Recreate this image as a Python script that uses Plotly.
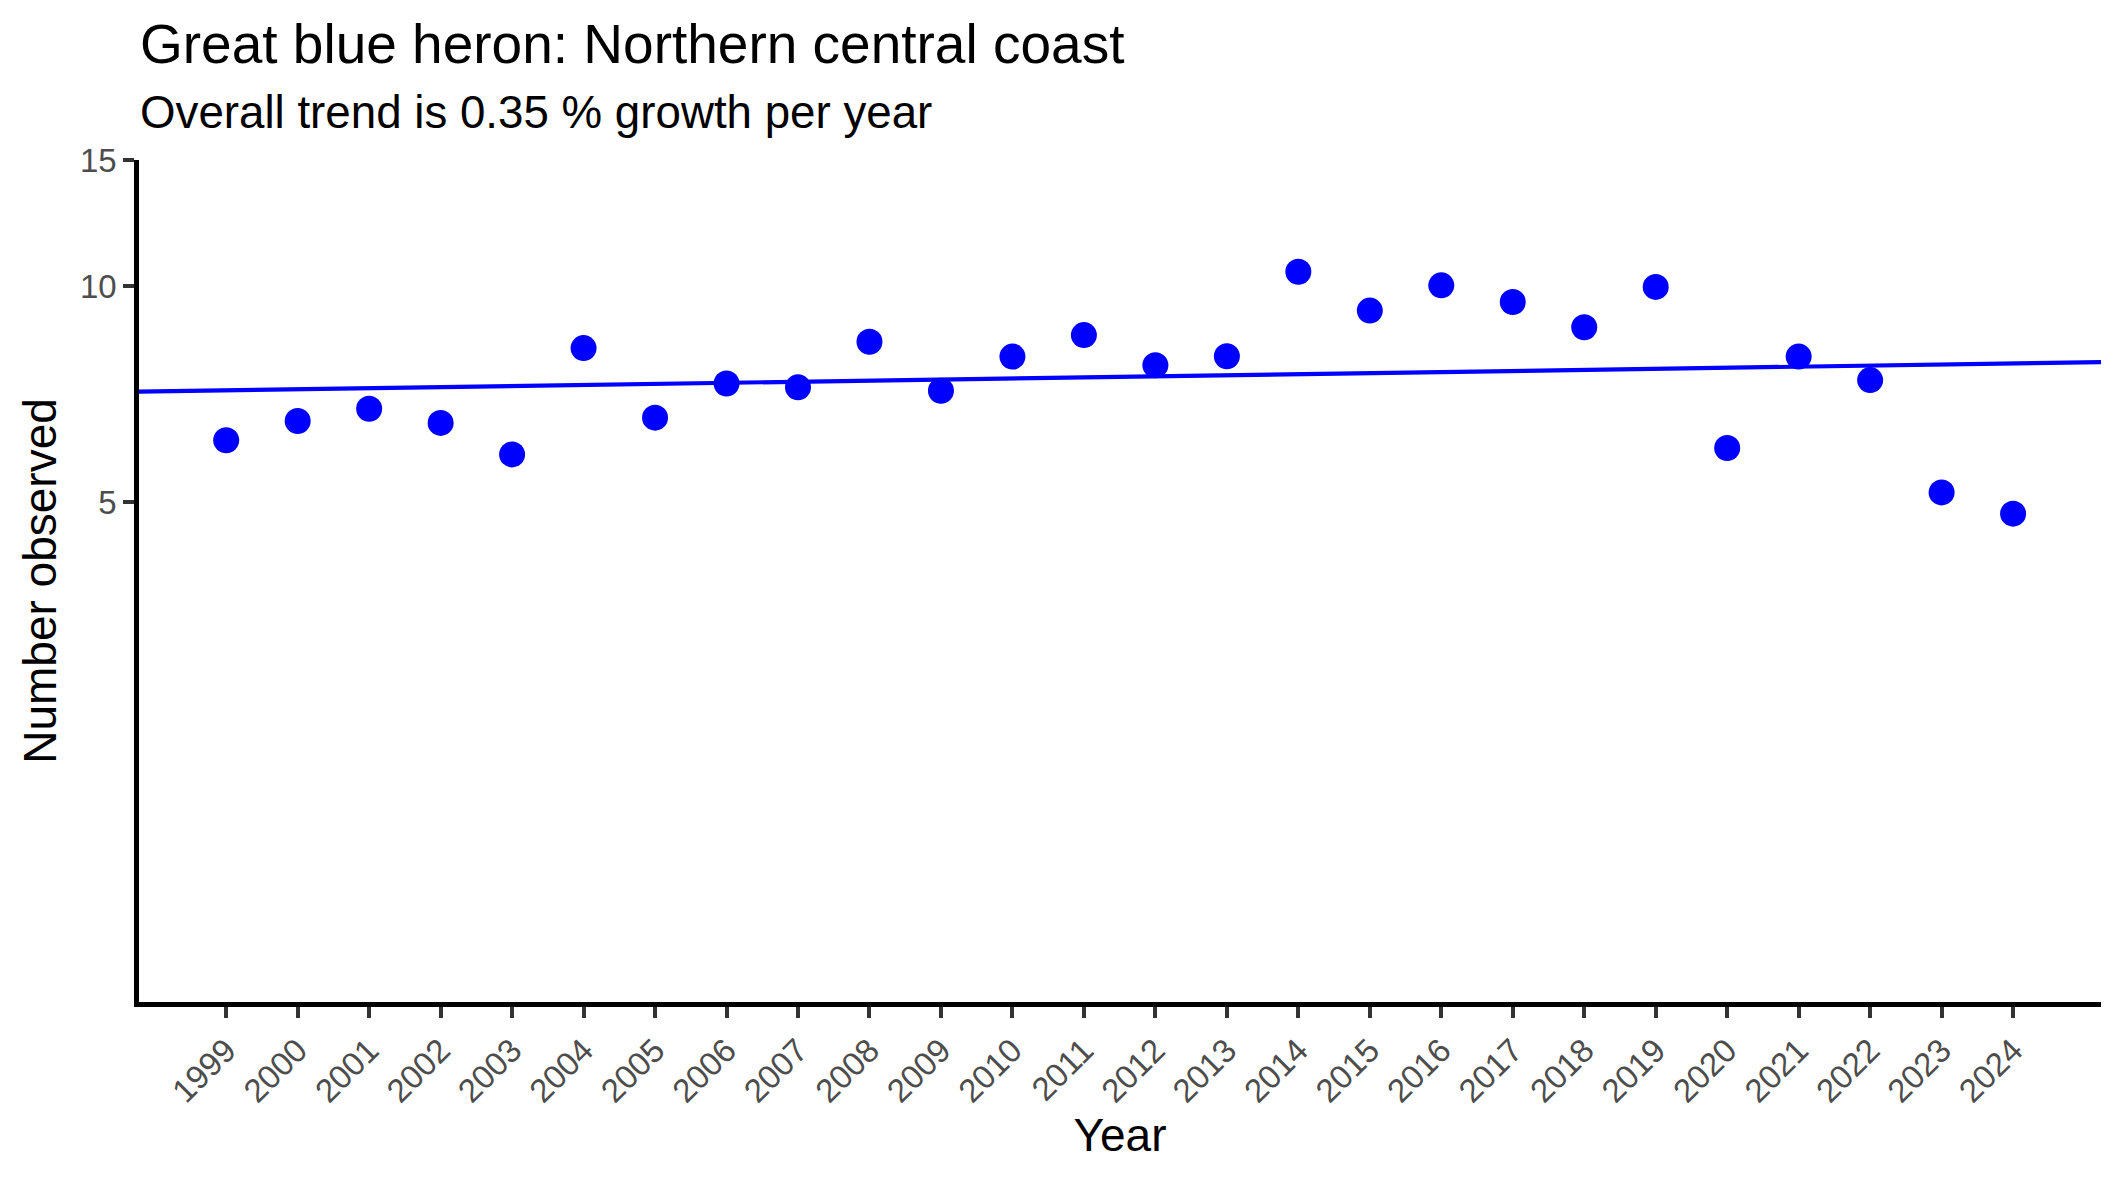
import plotly.graph_objects as go

years = list(range(1999, 2025))
counts = [6.10, 6.49, 6.75, 6.45, 5.83, 8.20, 6.56, 7.32, 7.23, 8.37,
          7.15, 7.98, 8.55, 7.76, 7.99, 10.48, 9.25, 10.03, 9.51, 8.77,
          9.98, 5.95, 7.98, 7.40, 5.16, 4.82]
trend_years = [1997.75, 2025.25]
trend_values = [7.13, 7.84]
y_ticks = [5, 10, 15]
title_text = "Great blue heron: Northern central coast"
subtitle_text = "Overall trend is 0.35 % growth per year"

FONT = "Liberation Sans, Arial, sans-serif"

fig = go.Figure()
fig.add_trace(go.Scatter(x=trend_years, y=trend_values, mode="lines",
                         line=dict(color="#0000FF", width=4.2),
                         showlegend=False, hoverinfo="skip"))
fig.add_trace(go.Scatter(x=years, y=counts, mode="markers",
                         marker=dict(color="#0000FF", size=26, line=dict(width=0)),
                         showlegend=False))

W, H = 2125, 1181
L, R, T, B = 139, 24, 160, 179
ph = H - T - B

def py(ypx):
    return (H - B - ypx) / ph

fig.update_layout(
    width=W, height=H,
    margin=dict(l=L, r=R, t=T, b=B),
    paper_bgcolor="white", plot_bgcolor="white",
    font=dict(family=FONT, color="black"),
    xaxis=dict(
        range=[1997.78, 2025.23], tickmode="array", tickvals=years,
        ticktext=[str(y) for y in years], tickangle=-45,
        tickfont=dict(size=33, color="#4D4D4D", family=FONT),
        ticks="outside", ticklen=11, tickwidth=4, tickcolor="#333333",
        showline=True, linecolor="black", linewidth=4.5,
        showgrid=False, zeroline=False,
        title=dict(text="Year", font=dict(size=46, color="black", family=FONT), standoff=9),
    ),
    yaxis=dict(
        type="log", range=[0.0022, 1.176091], tickmode="array", tickvals=y_ticks,
        ticktext=[str(v) for v in y_ticks],
        tickfont=dict(size=33, color="#4D4D4D", family=FONT),
        ticks="outside", ticklen=11, tickwidth=4, tickcolor="#333333",
        showline=True, linecolor="black", linewidth=4.5,
        showgrid=False, zeroline=False,
        title=dict(text="Number observed", font=dict(size=46, color="black", family=FONT), standoff=10),
    ),
    annotations=[
        dict(text=title_text, xref="paper", yref="paper", x=0, y=py(44),
             xanchor="left", yanchor="middle", showarrow=False,
             font=dict(size=55, color="black", family=FONT), xshift=-1),
        dict(text=subtitle_text, xref="paper", yref="paper", x=0, y=py(113),
             xanchor="left", yanchor="middle", showarrow=False,
             font=dict(size=45.7, color="black", family=FONT), xshift=-1),
    ],
)

fig.write_html("out.html")
